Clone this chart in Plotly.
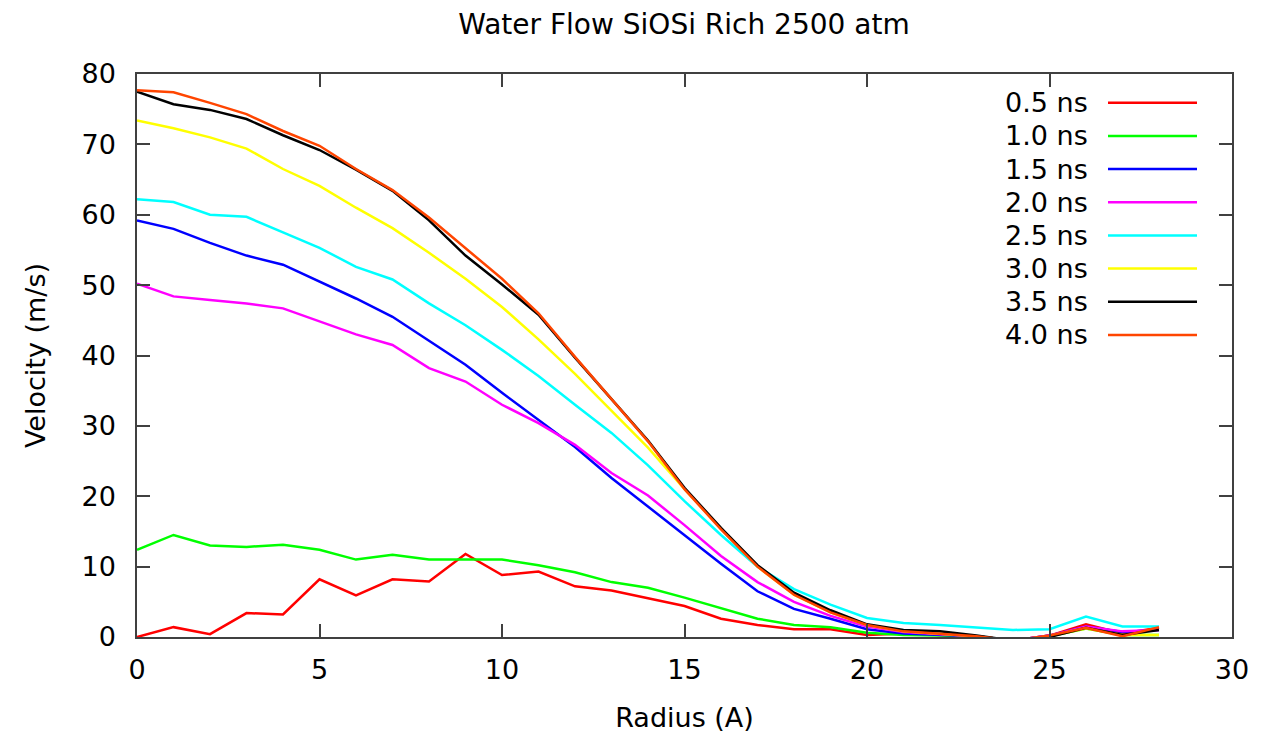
import plotly.graph_objects as go

radius = list(range(0, 29))

series_names = ["0.5 ns", "1.0 ns", "1.5 ns", "2.0 ns", "2.5 ns", "3.0 ns", "3.5 ns", "4.0 ns"]
series_colors = ["#ff0000", "#00ff00", "#0000ff", "#ff00ff", "#00ffff", "#ffff00", "#000000", "#ff4500"]

v_05 = [0.0, 1.4, 0.4, 3.4, 3.2, 8.2, 5.9, 8.2, 7.9, 11.8, 8.8, 9.3, 7.2, 6.6, 5.5, 4.4, 2.6, 1.7, 1.1, 1.1,
        0.3, 0.5, 0.3, 0.1, -0.5, 0.2, 1.8, 0.5, 1.3]
v_10 = [12.4, 14.5, 13.0, 12.8, 13.1, 12.4, 11.0, 11.7, 11.0, 11.0, 11.0, 10.2, 9.2, 7.8, 7.0, 5.6, 4.1, 2.6, 1.7, 1.4,
        0.6, 0.3, 0.2, 0.1, -0.5, 0.1, 1.2, 0.3, 0.3]
v_15 = [59.2, 58.0, 56.0, 54.2, 52.9, 50.5, 48.1, 45.5, 42.1, 38.7, 34.7, 30.8, 27.0, 22.6, 18.5, 14.4, 10.4, 6.5, 4.0, 2.6,
        1.1, 0.5, 0.3, 0.1, -0.5, 0.2, 1.5, 0.7, 1.0]
v_20 = [50.2, 48.4, 47.9, 47.4, 46.7, 44.8, 43.0, 41.5, 38.2, 36.3, 33.0, 30.4, 27.3, 23.3, 20.1, 15.9, 11.5, 7.8, 5.0, 3.0,
        1.5, 0.7, 0.4, 0.1, -0.5, 0.2, 1.5, 0.8, 1.0]
v_25 = [62.2, 61.8, 60.0, 59.7, 57.5, 55.3, 52.6, 50.8, 47.4, 44.3, 40.8, 37.1, 33.0, 29.0, 24.4, 19.3, 14.5, 10.0, 6.8, 4.6,
        2.7, 2.0, 1.7, 1.3, 1.0, 1.1, 2.9, 1.5, 1.5]
v_30 = [73.4, 72.3, 71.0, 69.4, 66.5, 64.1, 61.0, 58.1, 54.6, 50.9, 46.9, 42.3, 37.4, 32.2, 26.9, 21.0, 15.4, 10.0, 6.0, 3.5,
        1.7, 0.8, 0.5, 0.1, -0.5, 0.1, 1.2, 0.3, 0.3]
v_35 = [77.5, 75.7, 74.9, 73.6, 71.3, 69.2, 66.4, 63.4, 59.2, 54.2, 50.1, 45.8, 39.7, 33.8, 27.9, 21.2, 15.5, 10.2, 6.3, 3.8,
        1.8, 1.0, 0.8, 0.2, -0.5, 0.0, 1.3, 0.3, 1.0]
v_40 = [77.7, 77.4, 75.9, 74.3, 71.9, 69.8, 66.5, 63.5, 59.6, 55.2, 50.9, 46.0, 39.8, 33.8, 27.8, 21.0, 15.3, 10.0, 6.0, 3.5,
        1.7, 0.8, 0.5, 0.1, -0.5, 0.2, 1.3, 0.1, 1.4]

series_values = [v_05, v_10, v_15, v_20, v_25, v_30, v_35, v_40]

x_ticks = [0, 5, 10, 15, 20, 25, 30]
y_ticks = [0, 10, 20, 30, 40, 50, 60, 70, 80]

FONT = "DejaVu Sans"
FS = 27
OFF = 8  # page body margin
W, H = 1267 - OFF, 740 - OFF
L, R, T, B = 137 - OFF, 35, 74 - OFF, 99
pw, ph = W - L - R, H - T - B

fig = go.Figure()
for name, vals, col in zip(series_names, series_values, series_colors):
    fig.add_trace(go.Scatter(x=radius, y=vals, mode="lines", name=name,
                             line=dict(color=col, width=2.5), showlegend=False))

# gnuplot-style key: text right-aligned, then line sample
for i, (name, col) in enumerate(zip(series_names, series_colors)):
    py = 103 + i * 33.4
    yp = (641 - py) / ph
    fig.add_annotation(x=(1090 - 137) / pw, y=yp, xref="paper", yref="paper", text=name,
                       showarrow=False, xanchor="right", yanchor="middle",
                       font=dict(family=FONT, size=FS, color="black"))
    fig.add_shape(type="line", xref="paper", yref="paper",
                  x0=(1108 - 137) / pw, x1=(1197 - 137) / pw, y0=yp, y1=yp,
                  line=dict(color=col, width=2.5))

axis_common = dict(showgrid=False, zeroline=False, showline=True, linecolor="#404040", linewidth=1.5,
                   mirror="allticks", ticks="inside", ticklen=13, tickcolor="#404040", tickwidth=1.5,
                   tickfont=dict(family=FONT, size=FS, color="black"))

fig.update_xaxes(range=[0, 30], tickvals=x_ticks, ticktext=[str(t) for t in x_ticks],
                 title=dict(text="Radius (A)", font=dict(family=FONT, size=FS, color="black"), standoff=24),
                 ticklabelstandoff=8, **axis_common)
fig.update_yaxes(range=[0, 80], tickvals=y_ticks, ticktext=[str(t) for t in y_ticks],
                 title=dict(text="Velocity (m/s)", font=dict(family=FONT, size=FS, color="black"), standoff=28),
                 ticklabelstandoff=14, **axis_common)

fig.update_layout(
    width=W, height=H,
    margin=dict(l=L, r=R, t=T, b=B),
    paper_bgcolor="white", plot_bgcolor="white",
    title=dict(text="Water Flow SiOSi Rich 2500 atm", x=(684 - OFF) / W,
               xanchor="center", y=1 - (24 - OFF) / H, yanchor="middle",
               font=dict(family=FONT, size=28, color="black")),
    showlegend=False,
)

fig.write_html("out.html")
